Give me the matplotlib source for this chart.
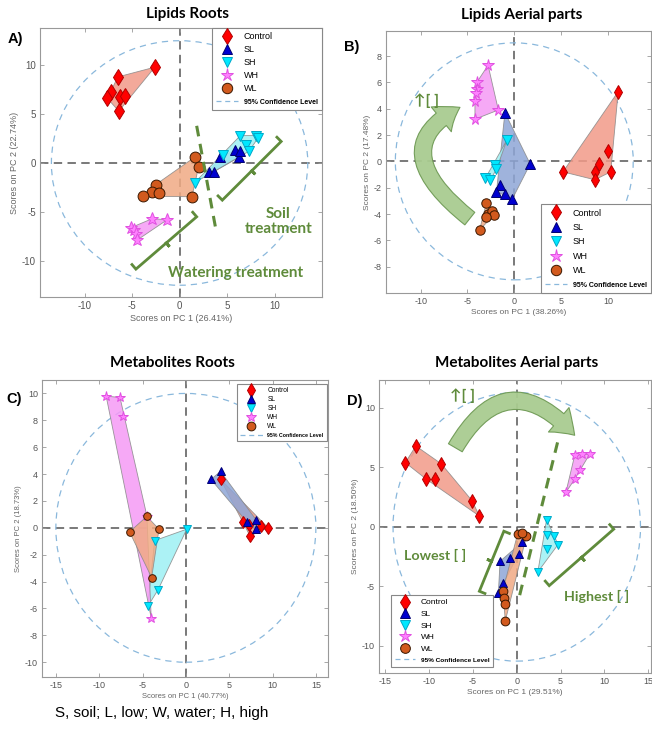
import matplotlib
matplotlib.use("Agg")
import matplotlib.pyplot as plt
import numpy as np
from matplotlib.lines import Line2D
from matplotlib.patches import Ellipse, Polygon, FancyArrowPatch
from matplotlib.path import Path

plt.rcParams["font.family"] = ["Liberation Sans", "DejaVu Sans"]
plt.rcParams["axes.unicode_minus"] = False

groups = ["Control", "SL", "SH", "WH", "WL"]

# Lipids roots: scores (PC1, PC2)
lr_control = [[-2.6, 9.8], [-6.5, 8.8], [-7.2, 7.3], [-7.6, 6.6], [-6.3, 6.7], [-5.7, 6.8], [-6.4, 5.3]]
lr_sl = [[3.1, -0.9], [3.6, -0.9], [4.3, 0.6], [5.8, 1.3], [6.3, 0.6], [6.4, 1.2]]
lr_sh = [[1.6, -2.0], [4.6, 0.8], [6.4, 2.8], [7.0, 1.8], [7.3, 1.2], [8.1, 2.8], [8.3, 2.6]]
lr_wh = [[-5.1, -6.6], [-4.8, -6.9], [-4.6, -7.3], [-4.5, -7.9], [-2.9, -5.7], [-1.3, -5.8]]
lr_wl = [[1.6, 0.6], [2.0, -0.4], [-2.5, -2.2], [-2.9, -3.0], [-2.2, -3.1], [-3.8, -3.4], [1.3, -3.45]]

# Lipids aerial parts
la_control = [[11.1, 5.3], [10.0, 0.8], [9.0, -0.2], [8.6, -0.8], [8.6, -1.4], [10.3, -0.8], [5.2, -0.8]]
la_sl = [[-1.0, 3.7], [1.7, -0.2], [-0.2, -2.85], [-1.5, -1.8], [-1.9, -2.3], [-1.0, -2.5]]
la_sh = [[-0.8, 1.6], [-2.1, -0.3], [-1.9, -0.6], [-3.1, -1.3], [-2.6, -1.45]]
la_wh = [[-2.8, 7.3], [-4.0, 6.0], [-4.0, 5.5], [-4.1, 5.2], [-4.2, 4.6], [-1.7, 3.9], [-4.2, 3.2]]
la_wl = [[-3.0, -3.2], [-2.8, -4.0], [-2.4, -3.8], [-2.2, -4.1], [-3.7, -5.2], [-3.0, -4.2]]

# Metabolites roots
mr_control = [[4.0, 3.6], [6.6, 0.4], [7.4, -0.6], [8.7, 0.1], [9.5, 0.0], [7.3, 0.2]]
mr_sl = [[2.9, 3.6], [4.0, 4.2], [7.1, 0.4], [8.1, 0.6], [8.1, -0.1]]
mr_sh = [[0.1, -0.1], [-3.6, -0.95], [-3.2, -4.6], [-4.4, -5.85]]
mr_wh = [[-9.2, 9.8], [-7.6, 9.7], [-7.2, 8.3], [-4.5, 0.9], [-4.0, -6.7]]
mr_wl = [[-4.5, 0.85], [-6.5, -0.3], [-3.1, -0.1], [-3.95, -3.7]]

# Metabolites aerial parts
ma_control = [[-12.7, 5.4], [-11.5, 6.8], [-10.3, 4.0], [-9.3, 4.0], [-8.6, 5.3], [-5.1, 2.2], [-4.25, 0.9]]
ma_sl = [[0.6, -1.3], [0.2, -2.3], [-0.8, -2.6], [-1.9, -2.9], [-1.6, -4.7], [-2.1, -5.6]]
ma_sh = [[3.4, 0.6], [3.5, -0.7], [4.3, -0.8], [4.7, -1.5], [3.5, -1.9], [2.4, -3.8]]
ma_wh = [[6.6, 6.0], [7.4, 6.1], [8.3, 6.1], [7.2, 4.8], [6.6, 4.0], [5.6, 2.9]]
ma_wl = [[0.1, -0.6], [1.1, -0.8], [0.6, -0.5], [-1.6, -5.4], [-1.5, -6.0], [-1.3, -6.5], [-1.3, -7.9]]

# 95% confidence ellipse half-axes (PC1, PC2)
conf_lr = (13.5, 12.5)
conf_la = (12.7, 9.0)
conf_mr = (15.0, 10.0)
conf_ma = (14.1, 11.3)

# explained variance (PC1, PC2)
var_lr = ("26.41", "22.74")
var_la = ("38.26", "17.48")
var_mr = ("40.77", "18.73")
var_ma = ("29.51", "18.50")

MARK = {
    "Control": ("d", "#ff0000", "#b00000"),
    "SL": ("^", "#0000d0", "#000070"),
    "SH": ("v", "#00e8ff", "#00a8c8"),
    "WH": ("*", "#ff80ff", "#e050e0"),
    "WL": ("o", "#d25a1e", "#3a1800"),
}
FILL = {
    "Control": "#f29a88",
    "SL": "#8ea6d6",
    "SH": "#9ef0f4",
    "WH": "#f59af5",
    "WL": "#f0aa84",
}
GREEN = "#5f8b3b"
CONF_C = "#8ab8dc"

W, H = 652, 732
fig = plt.figure(figsize=(W / 100, H / 100), dpi=100)


def add_ax(left, top, right, bottom):
    return fig.add_axes([left / W, 1 - bottom / H, (right - left) / W, (bottom - top) / H])


def convex_hull(points):
    pts = sorted(set(map(tuple, points)))
    if len(pts) < 3:
        return pts

    def cross(o, a, b):
        return (a[0] - o[0]) * (b[1] - o[1]) - (a[1] - o[1]) * (b[0] - o[0])

    lower, upper = [], []
    for p in pts:
        while len(lower) >= 2 and cross(lower[-2], lower[-1], p) <= 0:
            lower.pop()
        lower.append(p)
    for p in reversed(pts):
        while len(upper) >= 2 and cross(upper[-2], upper[-1], p) <= 0:
            upper.pop()
        upper.append(p)
    return lower[:-1] + upper[:-1]


def setup(ax, xlim, ylim, xticks, yticks, conf, var, fs, lab_fs):
    ax.set_xlim(*xlim)
    ax.set_ylim(*ylim)
    ax.set_xticks(xticks)
    ax.set_yticks(yticks)
    ax.tick_params(direction="in", top=True, right=True, length=3, width=0.6,
                   color="#999999", labelcolor="#555555", labelsize=fs, pad=3)
    for s in ax.spines.values():
        s.set_color("#999999")
        s.set_linewidth(0.8)
    ax.axhline(0, color="#555555", lw=1.1, ls=(0, (5.5, 3.5)), zorder=1)
    ax.axvline(0, color="#555555", lw=1.1, ls=(0, (5.5, 3.5)), zorder=1)
    ax.add_patch(Ellipse((0, 0), 2 * conf[0], 2 * conf[1], fill=False,
                         ec=CONF_C, lw=0.9, ls=(0, (5, 4)), zorder=1))
    ax.set_xlabel(f"Scores on PC 1 ({var[0]}%)", fontsize=lab_fs, color="#666666", labelpad=2)
    ax.set_ylabel(f"Scores on PC 2 ({var[1]}%)", fontsize=lab_fs, color="#666666", labelpad=2)


def msize(m, ms):
    return ms * 1.25 if m == "*" else (ms * 1.1 if m == "d" else ms)


def draw_groups(ax, data, ms):
    for g in groups:
        pts = np.array(data[g])
        hull = convex_hull(pts)
        ax.add_patch(Polygon(hull, closed=True, fc=FILL[g], ec="#888888", lw=0.6,
                             alpha=0.85, zorder=2))
        m, fc, ec = MARK[g]
        ax.plot(pts[:, 0], pts[:, 1], ls="none", marker=m, ms=msize(m, ms), mfc=fc, mec=ec,
                mew=0.7, zorder=3)


def add_legend(ax, fs, ms, spacing=0.45, hlen=2.4, **kw):
    handles = []
    for g in groups:
        m, fc, ec = MARK[g]
        handles.append(Line2D([], [], ls="none", marker=m, ms=msize(m, ms), mfc=fc, mec=ec, mew=0.7))
    handles.append(Line2D([], [], color=CONF_C, lw=0.9, ls=(0, (4, 3))))
    leg = ax.legend(handles, groups + ["95% Confidence Level"], fontsize=fs,
                    fancybox=False, framealpha=1, edgecolor="#888888",
                    handlelength=hlen, handletextpad=0.7, labelspacing=spacing,
                    borderpad=0.45, **kw)
    leg.get_frame().set_linewidth(0.8)
    last = leg.get_texts()[-1]
    last.set_fontweight("bold")
    last.set_fontsize(fs * 0.78)
    leg.set_zorder(6)
    return leg


def px_scale(ax):
    pos = ax.get_position()
    x0, x1 = ax.get_xlim()
    y0, y1 = ax.get_ylim()
    return pos.width * W / (x1 - x0), pos.height * H / (y1 - y0)


def bracket(ax, p0, p1, hook=6, notch=5):
    sx, sy = px_scale(ax)
    a = np.array([p0[0] * sx, p0[1] * sy])
    b = np.array([p1[0] * sx, p1[1] * sy])
    d = b - a
    n = np.array([-d[1], d[0]]) / np.hypot(*d)
    mid = (a + b) / 2
    path = np.array([a + n * hook, a, mid, mid - n * notch, mid, b, b + n * hook])
    ax.plot(path[:, 0] / sx, path[:, 1] / sy, color=GREEN, lw=2.0,
            solid_joinstyle="miter", zorder=4)


ARROW_STYLE = "simple,head_width=2.3,head_length=1.6,tail_width=1.15"


def curved_arrow(ax, tail, head, rad):
    arr = FancyArrowPatch(tail, head, connectionstyle=f"arc3,rad={rad}",
                          arrowstyle=ARROW_STYLE, mutation_scale=10,
                          fc="#a9cc90", ec="#6f9a55", lw=0.8,
                          shrinkA=0, shrinkB=0, alpha=0.95, zorder=4)
    ax.add_patch(arr)


def bezier_arrow(ax, p0, c, p2):
    path = Path([p0, c, p2], [Path.MOVETO, Path.CURVE3, Path.CURVE3])
    arr = FancyArrowPatch(path=path, arrowstyle=ARROW_STYLE, mutation_scale=10,
                          fc="#a9cc90", ec="#6f9a55", lw=0.8, alpha=0.95, zorder=4)
    ax.add_patch(arr)


def green_text(ax, x, y, s, fs=11):
    ax.text(x, y, s, color=GREEN, fontsize=fs, fontweight="bold", ha="center",
            va="center", family=["Lato", "DejaVu Sans"], linespacing=1.05, zorder=5)


def title(x, y, s):
    fig.text(x / W, 1 - y / H, s, ha="center", va="center", fontsize=11,
             fontweight="bold", family=["Lato", "DejaVu Sans"])


def tag(x, y, s):
    fig.text(x / W, 1 - y / H, s, ha="center", va="center", fontsize=10.5,
             fontweight="bold")


# ---- A) Lipids Roots
ax = add_ax(40, 28, 322, 297)
setup(ax, (-14.7, 15), (-13.7, 13.8), [-10, -5, 0, 5, 10], [-10, -5, 0, 5, 10],
      conf_lr, var_lr, 7, 6.5)
draw_groups(ax, dict(zip(groups, [lr_control, lr_sl, lr_sh, lr_wh, lr_wl])), 7.8)
add_legend(ax, 6.5, 7.5, loc="upper right", bbox_to_anchor=(1, 1), borderaxespad=0)
ax.plot([1.8, 3.9], [3.8, -7.2], color=GREEN, lw=2.2, ls=(0, (3.5, 2.5)), zorder=4)
bracket(ax, (4.5, -3.8), (10.7, 2.2))
bracket(ax, (-4.6, -10.85), (1.8, -5.5))
green_text(ax, 10.4, -6.0, "Soil\ntreatment", 11)
green_text(ax, 5.9, -11.2, "Watering treatment", 11)

# ---- B) Lipids Aerial parts
ax = add_ax(386, 31, 651, 293)
setup(ax, (-13.7, 14.6), (-10, 9.9), [-10, -5, 0, 5, 10], [-8, -6, -4, -2, 0, 2, 4, 6, 8],
      conf_la, var_la, 6.5, 6)
draw_groups(ax, dict(zip(groups, [la_control, la_sl, la_sh, la_wh, la_wl])), 6.8)
add_legend(ax, 6.5, 7.5, spacing=0.6, loc="lower right", bbox_to_anchor=(1, 0), borderaxespad=0)
bezier_arrow(ax, (-4.75, -4.35), (-14.2, 1.0), (-5.8, 4.1))
green_text(ax, -9.4, 4.65, "↑[ ]", 11)

# ---- C) Metabolites Roots
ax = add_ax(42, 380, 328, 677)
setup(ax, (-16.6, 16.4), (-11.1, 11), [-15, -10, -5, 0, 5, 10, 15], list(range(-10, 11, 2)),
      conf_mr, var_mr, 6.5, 5.5)
draw_groups(ax, dict(zip(groups, [mr_control, mr_sl, mr_sh, mr_wh, mr_wl])), 5.5)
add_legend(ax, 4.8, 6.3, spacing=0.3, hlen=3.4, loc="upper right",
           bbox_to_anchor=(0.995, 0.985), borderaxespad=0)

# ---- D) Metabolites Aerial parts
ax = add_ax(379, 380, 651, 673)
setup(ax, (-15.7, 15.3), (-12.3, 12.35), [-15, -10, -5, 0, 5, 10, 15], [-10, -5, 0, 5, 10],
      conf_ma, var_ma, 6.5, 6)
draw_groups(ax, dict(zip(groups, [ma_control, ma_sl, ma_sh, ma_wh, ma_wl])), 6.3)
add_legend(ax, 6, 7, spacing=0.45, loc="lower left", bbox_to_anchor=(0.045, 0.02),
           borderaxespad=0)
ax.plot([4.65, 0.3], [7.1, -5.85], color=GREEN, lw=2.2, ls=(0, (3.5, 2.5)), zorder=4)
curved_arrow(ax, (-7.0, 6.65), (6.6, 7.7), -0.68)
bracket(ax, (-1.47, -0.37), (-4.26, -5.42))
bracket(ax, (3.7, -4.95), (11.05, -0.2))
green_text(ax, -6.2, 11.0, "↑[ ]", 11)
green_text(ax, -9.3, -2.4, "Lowest [ ]", 10.3)
green_text(ax, 9.1, -5.85, "Highest [ ]", 10.3)

title(187, 14, "Lipids Roots")
title(522, 15, "Lipids Aerial parts")
title(172, 363, "Metabolites Roots")
title(517, 363, "Metabolites Aerial parts")
tag(15, 39, "A)")
tag(352, 47, "B)")
tag(14, 399, "C)")
tag(355, 401, "D)")

fig.text(55 / W, 1 - 713 / H, "S, soil; L, low; W, water; H, high", ha="left", va="center",
         fontsize=11)

fig.savefig("out.png", dpi=100)
